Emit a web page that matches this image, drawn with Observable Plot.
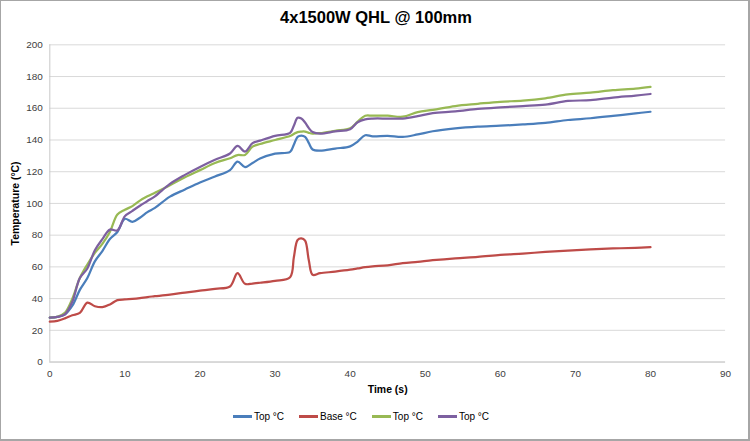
<!DOCTYPE html>
<html>
<head>
<meta charset="utf-8">
<script src="https://cdn.jsdelivr.net/npm/d3@7"></script>
<script src="https://cdn.jsdelivr.net/npm/@observablehq/plot@0.6"></script>
<style>
  html, body { margin: 0; padding: 0; background: #fff; }
  #wrap {
    position: relative; width: 750px; height: 441px; box-sizing: border-box;
    border: 1.5px solid #a6a6a6; border-right-width: 2px; border-bottom-width: 2.5px;
    font-family: "Liberation Sans", Arial, sans-serif; overflow: hidden;
  }
  #title {
    position: absolute; left: 0; top: 7px; width: 750px; text-align: center;
    font-weight: bold; font-size: 16.5px; color: #000;
  }
  #chart { position: absolute; left: -1.5px; top: -1.5px; }
  #legend {
    position: absolute; left: -15px; top: 410px; width: 750px; display: flex; justify-content: center;
    font-size: 10px; color: #000; gap: 15px;
  }
  .item { display: flex; align-items: center; gap: 2px; }
  .sw { display: inline-block; width: 19px; height: 2.5px; }
  #chart svg [aria-label="x-axis label"] text,
  #chart svg [aria-label="y-axis label"] text { font-weight: bold; fill: #000; font-size: 10.5px; }
</style>
</head>
<body>
<div id="wrap">
  <div id="title">4x1500W QHL @ 100mm</div>
  <div id="chart"></div>
  <div id="legend"></div>
</div>
<script>
const seriesNames = ["Top °C", "Base °C", "Top °C ", "Top °C  "];
const legendLabels = ["Top °C", "Base °C", "Top °C", "Top °C"];
const colors = ["#4a7ebb", "#be4b48", "#98b954", "#7d60a0"];
const xTicks = [0, 10, 20, 30, 40, 50, 60, 70, 80, 90];
const yTicks = [0, 20, 40, 60, 80, 100, 120, 140, 160, 180, 200];

const times = [0,1,2,3,4,5,6,7,8,9,10,11,12,13,14,16,18,20,22,24,25,26,27,28,30,32,32.5,33,33.5,34,34.5,35,36,38,40,41,42,43,45,47,49,51,54,57,60,63,66,69,72,75,78,80];

const topBlue = [28,28.5,30,35.5,45.5,53,63.5,70,77.6,82,90.3,88.4,91,94.5,97.2,104.3,108.8,113.2,117,121,126.4,122.9,125.5,128.3,131.4,132.5,137,142,142.8,142,138,134,133.3,134.6,136,139,143,142.3,142.6,141.9,143.5,145.5,147.3,148.4,149,149.8,150.8,152.6,153.7,155.2,156.8,157.8];

const baseRed = [25.5,26,27.5,29.5,31,37.5,35.2,34.6,36.3,39,39.5,39.8,40.3,41,41.5,42.5,43.8,45,46.2,47.6,56,49.3,49.5,50,51.2,53.5,66,77,78,76.5,64,55,56,57,58.2,59,59.8,60.3,61,62.3,63.2,64.2,65.4,66.3,67.5,68.4,69.4,70.3,71,71.6,72,72.4];

const topGreen = [28,28.5,31,40,53,61.5,68.8,74.5,82,93,96,98.3,101.8,104.5,106.8,111.5,116.5,121,125.5,128.5,130.5,130.6,135.8,137.5,140,142.5,143.8,145,145.3,145.3,144.5,144,144.3,145.8,147.4,151.6,155.3,155.3,155.3,154.7,157.6,159,161.4,162.8,164.1,164.8,166.3,168.8,169.8,171.4,172.4,173.5];

const topPurple = [28,28.5,30,38,53,59,70.5,77.5,83.5,83,92,95.3,98.5,101.5,104.5,112.3,118,123,127.5,131.5,136.3,132.7,138,139.6,142.6,144.5,149,154,153.5,151,147.5,145,144,145.4,146.8,151.2,153,153.5,153.5,153.5,155,157,158,159.6,160.6,161.4,162.3,164.6,165.1,166.7,168,169];

const allSeries = [topBlue, baseRed, topGreen, topPurple];
const rows = [];
allSeries.forEach((vals, s) => {
  times.forEach((t, i) => rows.push({ t, v: vals[i], series: seriesNames[s] }));
});

const chart = Plot.plot({
  width: 751.5,
  height: 402,
  marginLeft: 49.5,
  marginRight: 23.5,
  marginTop: 44.5,
  marginBottom: 39,
  style: { fontFamily: '"Liberation Sans", Arial, sans-serif', fontSize: "10px", color: "#404040", background: "transparent" },
  x: { domain: [0, 90], ticks: xTicks, label: "Time (s)", labelAnchor: "center", labelArrow: "none", labelOffset: 31, tickSize: 0, tickPadding: 8 },
  y: { domain: [0, 200], ticks: yTicks, label: "Temperature (°C)", labelAnchor: "center", labelArrow: "none", labelOffset: 38, tickSize: 0, tickPadding: 7 },
  color: { domain: seriesNames, range: colors },
  marks: [
    Plot.gridY(yTicks, { stroke: "#d9d9d9", strokeOpacity: 1, strokeWidth: 1 }),
    Plot.ruleX([0], { stroke: "#c8c8c8", strokeWidth: 1 }),
    Plot.ruleY([0], { stroke: "#c8c8c8", strokeWidth: 1 }),
    Plot.line(rows, { x: "t", y: "v", z: "series", stroke: "series", strokeWidth: 2.25, curve: "catmull-rom" })
  ]
});
document.getElementById("chart").appendChild(chart);

const legend = document.getElementById("legend");
legendLabels.forEach((name, i) => {
  const it = document.createElement("div");
  it.className = "item";
  const sw = document.createElement("span");
  sw.className = "sw";
  sw.style.background = colors[i];
  const tx = document.createElement("span");
  tx.textContent = name;
  it.appendChild(sw); it.appendChild(tx);
  legend.appendChild(it);
});
</script>
</body>
</html>
